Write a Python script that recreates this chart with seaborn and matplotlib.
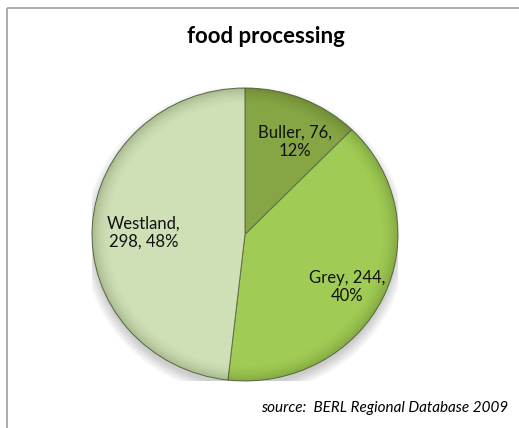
import numpy as np
import matplotlib
matplotlib.use("Agg")
import matplotlib.pyplot as plt
from matplotlib.patches import Rectangle, Ellipse, Wedge
import seaborn as sns

# Food processing employment by district
districts = ["Buller", "Grey", "Westland"]
employees = [76, 244, 298]
words_on_first_line = [2, 2, 1]
title = "food processing"
source = "source:  BERL Regional Database 2009"

colors = ["#86a544", "#a0cb54", "#cfdfb6"]
# label centres, in pixels from the top-left corner
label_xy = [(295, 142), (347, 287), (144, 233)]

sns.set_theme(style="white")
plt.rcParams["font.family"] = ["Lato", "DejaVu Sans"]

W, H = 519, 428
fig = plt.figure(figsize=(W / 100, H / 100), dpi=100)

# outer chart frame
bg = fig.add_axes([0, 0, 1, 1])
bg.set_xlim(0, W)
bg.set_ylim(H, 0)
bg.axis("off")
bg.add_patch(Rectangle((6.5, 8), W + 20, H + 20, fill=False,
                       edgecolor="#a6a6a6", linewidth=1.3))
bg.text(266, 36, title, ha="center", va="center", fontsize=16,
        fontweight="bold", color="black")
bg.text(508, 408, source, ha="right", va="center", fontsize=11,
        style="italic", color="black")

# percentages rounded so they add up to 100
raw = np.array(employees) / sum(employees) * 100
pct = np.floor(raw).astype(int)
for i in np.argsort(-(raw - pct))[: 100 - pct.sum()]:
    pct[i] += 1

labels = []
for name, v, p, k in zip(districts, employees, pct, words_on_first_line):
    parts = [f"{name},", f"{v},", f"{p}%"]
    labels.append(" ".join(parts[:k]) + "\n" + " ".join(parts[k:]))

cx, cy, pw, ph = 245, 234.5, 306, 293
ax = fig.add_axes([(cx - pw / 2) / W, 1 - (cy + ph / 2) / H, pw / W, ph / H])

# soft shadow under the pie
for i in range(10):
    ax.add_patch(Ellipse((0.0, -0.04), 1.98 + 0.015 * i, 1.98 + 0.015 * i,
                         facecolor="black", alpha=0.02, linewidth=0, zorder=0))

wedges, texts = ax.pie(employees, colors=colors, startangle=90, counterclock=False,
                       labels=labels, labeldistance=0.70,
                       wedgeprops=dict(edgecolor="#5f6f48", linewidth=0.7),
                       textprops=dict(fontsize=12, color="#111111",
                                      ha="center", va="center",
                                      multialignment="center", linespacing=1.15))
for w in wedges:
    w.set_zorder(2)
for t, (lx, ly) in zip(texts, label_xy):
    t.set_transform(bg.transData)
    t.set_position((lx, ly))
    t.set_zorder(5)

# darken smoothly toward the rim for a rounded look
n_rings, dr = 24, 0.005
for i in range(n_rings):
    ax.add_patch(Wedge((0, 0), 1.0 - i * dr, 0, 360, width=dr,
                       facecolor="#203008", linewidth=0,
                       alpha=0.22 * (1 - i / n_rings) ** 2, zorder=3))

ax.set_aspect("auto")
ax.set_xlim(-1, 1)
ax.set_ylim(-1, 1)
ax.axis("off")

fig.savefig("out.png", dpi=100)
